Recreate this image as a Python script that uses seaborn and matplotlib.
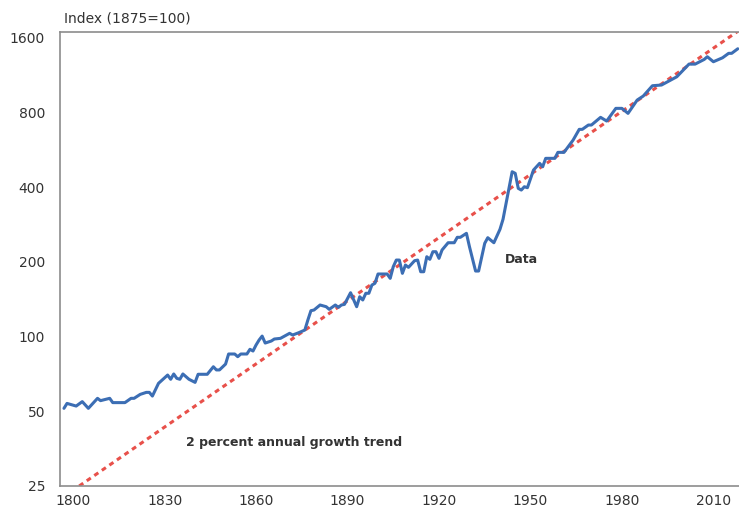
#!/usr/bin/env python

import pandas as pd
import matplotlib
matplotlib.use('Agg')
import matplotlib.pyplot as plt
import seaborn as sns

# Index values (1875=100)
years = [1797, 1798, 1801, 1803, 1805, 1808, 1809, 1812, 1813, 1817,
         1819, 1820, 1822, 1824, 1825, 1826, 1828, 1831, 1832, 1833,
         1834, 1835, 1836, 1838, 1840, 1841, 1844, 1846, 1847, 1848,
         1850, 1851, 1853, 1854, 1855, 1857, 1858, 1859, 1860, 1861,
         1862, 1863, 1865, 1866, 1868, 1871, 1872, 1874, 1876, 1877,
         1878, 1879, 1881, 1883, 1884, 1886, 1887, 1888, 1889, 1891,
         1893, 1894, 1895, 1896, 1897, 1898, 1899, 1900, 1903, 1904,
         1905, 1906, 1907, 1908, 1909, 1910, 1912, 1913, 1914, 1915,
         1916, 1917, 1918, 1919, 1920, 1921, 1923, 1925, 1926, 1927,
         1929, 1930, 1932, 1933, 1935, 1936, 1938, 1940, 1941, 1944,
         1945, 1946, 1947, 1948, 1949, 1951, 1953, 1954, 1955, 1958,
         1959, 1961, 1964, 1966, 1967, 1969, 1970, 1973, 1975, 1978,
         1980, 1982, 1985, 1987, 1990, 1993, 1998, 2002, 2004, 2007,
         2008, 2010, 2013, 2015, 2016, 2018]
index_values = [51.4, 53.8, 52.5, 54.7, 51.4, 56.4, 55.2, 56.4, 54.2, 54.2,
                56.4, 56.4, 58.5, 59.6, 59.6, 57.6, 64.8, 70.0, 67.3, 70.7,
                67.9, 67.3, 70.7, 67.3, 65.4, 70.5, 70.5, 75.6, 73.4, 73.4,
                77.5, 85.1, 85.1, 83.0, 85.1, 85.1, 88.9, 87.5, 92.5, 96.9,
                100.5, 94.2, 96.0, 97.8, 98.4, 103.1, 101.5, 103.7, 106.3, 116.7,
                127.2, 128.0, 134.1, 132.0, 128.8, 134.1, 131.2, 134.1, 134.9, 150.3,
                132.0, 144.8, 140.5, 149.5, 149.5, 161.4, 164.0, 178.8, 178.8, 171.7,
                191.3, 203.5, 203.5, 179.9, 194.3, 190.2, 202.3, 203.5, 182.6, 182.6,
                209.9, 204.9, 219.9, 219.9, 206.8, 223.4, 239.0, 239.0, 251.3, 251.3,
                260.8, 230.3, 183.8, 183.8, 237.7, 250.4, 239.0, 270.6, 297.0, 461.8,
                455.1, 395.9, 389.7, 401.9, 398.2, 469.2, 499.3, 483.7, 523.0, 523.0,
                552.9, 552.9, 619.9, 684.5, 684.5, 712.5, 712.5, 765.2, 739.3, 831.7,
                831.7, 794.0, 898.2, 932.5, 1026, 1033, 1115, 1254, 1254, 1310,
                1343, 1282, 1330, 1386, 1386, 1446]

# 2 percent annual growth trend (straight on the log axis)
trend_years = [1802, 2018]
trend_values = [25, 1700]

y_ticks = [25, 50, 100, 200, 400, 800, 1600]
x_ticks = [1800, 1830, 1860, 1890, 1920, 1950, 1980, 2010]

BLUE = '#3C6EB4'
RED = '#E8504A'
TEXT = '#333333'


def setup_plot_style():
    sns.set_theme(style='white')
    plt.rcParams['font.family'] = ['DejaVu Sans']


def plot_chart(filename):
    data = pd.DataFrame({'year': years, 'index': index_values})
    trend = pd.DataFrame({'year': trend_years, 'index': trend_values})

    fig = plt.figure(figsize=(7.39, 5.09), dpi=100)
    ax = fig.add_axes([0.0812, 0.0452, 0.9188, 0.892])

    sns.lineplot(data=trend, x='year', y='index', ax=ax, color=RED,
                 linewidth=2.2, linestyle=(0, (1.6, 1.4)), estimator=None, sort=False)
    sns.lineplot(data=data, x='year', y='index', ax=ax, color=BLUE,
                 linewidth=2.2, estimator=None, sort=False)

    ax.set_yscale('log', base=2)
    ax.set_ylim(25, 1690)
    ax.set_xlim(1795.7, 2018.4)
    ax.set_yticks(y_ticks)
    ax.set_yticklabels([str(v) for v in y_ticks])
    ax.minorticks_off()
    ax.set_xticks(x_ticks)
    ax.set_xticklabels([str(v) for v in x_ticks])
    ax.tick_params(axis='both', length=0, labelsize=10, colors=TEXT)
    ax.tick_params(axis='y', pad=10.8)
    ax.tick_params(axis='x', pad=5.5)
    ax.set_xlabel('')
    ax.set_ylabel('')

    for side in ['left', 'bottom', 'top']:
        ax.spines[side].set_color('#8c8c8c')
        ax.spines[side].set_linewidth(1.2)
    ax.spines['right'].set_visible(False)

    fig.text(64 / 739, 1 - 18 / 509, 'Index (1875=100)', fontsize=10,
             color=TEXT, ha='left', va='center')
    ax.text(1941.5, 205, 'Data', fontsize=9, fontweight='bold',
            color=TEXT, ha='left', va='center')
    ax.text(1837, 37.3, '2 percent annual growth trend', fontsize=9,
            fontweight='bold', color=TEXT, ha='left', va='center')

    fig.savefig(filename, dpi=100)


def main():
    setup_plot_style()
    plot_chart('out.png')


if __name__ == '__main__':
    main()
